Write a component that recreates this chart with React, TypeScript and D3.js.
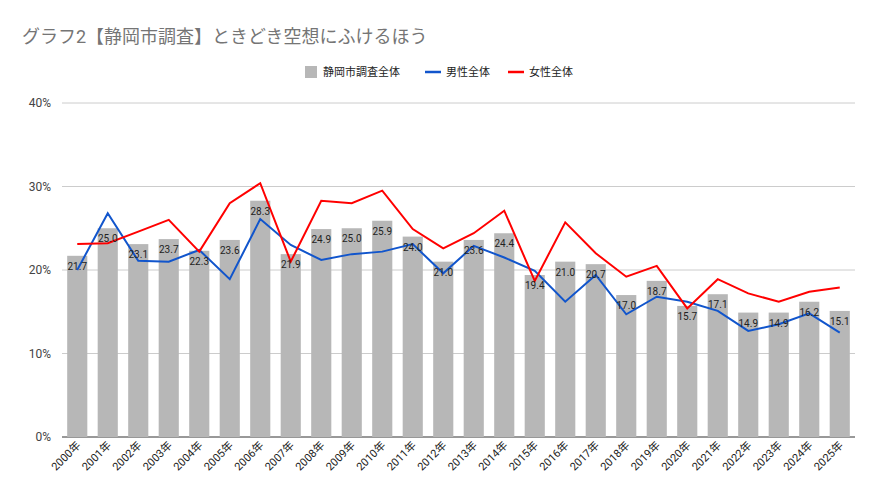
import React from 'react';
import * as d3 from 'd3';

const years = d3.range(2000, 2026).map(y => `${y}年`);
const overall = [21.7,25.0,23.1,23.7,22.3,23.6,28.3,21.9,24.9,25.0,25.9,24.0,21.0,23.6,24.4,19.4,21.0,20.7,17.0,18.7,15.7,17.1,14.9,14.9,16.2,15.1];
const male = [20.0,26.8,21.1,21.0,22.4,18.9,26.1,23.0,21.2,21.9,22.2,23.1,19.6,22.9,21.5,19.9,16.2,19.4,14.7,16.8,16.2,15.1,12.7,13.5,14.8,12.5];
const female = [23.1,23.2,24.6,26.0,22.2,28.0,30.4,21.0,28.3,28.0,29.5,24.9,22.6,24.4,27.1,18.7,25.7,22.0,19.2,20.5,15.4,18.9,17.2,16.2,17.4,17.9];
const yTicks = [0, 10, 20, 30, 40];

const W = 885, H = 502;
const font = 'Roboto, "Noto Sans CJK JP", sans-serif';

const App: React.FC = () => {
  const x = d3.scaleBand<string>().domain(years).range([62, 855]).paddingInner(0.34).paddingOuter(0.17);
  const y = d3.scaleLinear().domain([0, 40]).range([437, 103]);
  const cx = (i: number) => (x(years[i]) as number) + x.bandwidth() / 2;
  const line = (vals: number[]) => d3.line<number>().x((_, i) => cx(i)).y(v => y(v))(vals) as string;

  return (
    <svg width={W} height={H} style={{ position: 'absolute', left: 0, top: 0, fontFamily: font }}>
      <rect width={W} height={H} fill="#fff" />
      <text x={22} y={43} fontSize={18} fill="#757575">グラフ2【静岡市調査】ときどき空想にふけるほう</text>
      <g fontSize={11} fill="#222">
        <rect x={305} y={66} width={12} height={12} fill="#b7b7b7" />
        <text x={323} y={76}>静岡市調査全体</text>
        <line x1={425} x2={441} y1={72} y2={72} stroke="#1155cc" strokeWidth={2.5} />
        <text x={446} y={76}>男性全体</text>
        <line x1={508} x2={524} y1={72} y2={72} stroke="#ff0000" strokeWidth={2.5} />
        <text x={529} y={76}>女性全体</text>
      </g>
      {yTicks.map(t => (
        <g key={t}>
          <line x1={62} x2={855} y1={y(t)} y2={y(t)} stroke={t === 0 ? '#333' : '#ccc'} strokeWidth={1} />
          <text x={51} y={y(t) + 4} textAnchor="end" fontSize={12} fill="#444">{t}%</text>
        </g>
      ))}
      {overall.map((v, i) => (
        <rect key={i} x={x(years[i])} y={y(v)} width={x.bandwidth()} height={y(0) - y(v)} fill="#b7b7b7" />
      ))}
      <path d={line(male)} fill="none" stroke="#1155cc" strokeWidth={2} />
      <path d={line(female)} fill="none" stroke="#ff0000" strokeWidth={2} />
      {overall.map((v, i) => (
        <text key={i} x={cx(i)} y={y(v) + 14} textAnchor="middle" fontSize={10} fill="#222">{v.toFixed(1)}</text>
      ))}
      {years.map((yr, i) => (
        <text key={yr} transform={`translate(${cx(i) + 4},${446}) rotate(-45)`} textAnchor="end" fontSize={11} fill="#222">{yr}</text>
      ))}
    </svg>
  );
};

export default App;
